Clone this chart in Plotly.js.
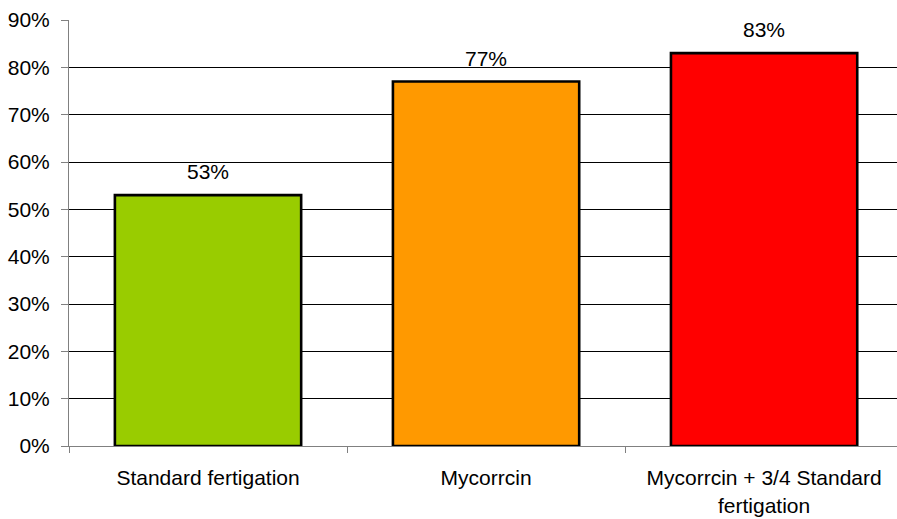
<!DOCTYPE html>
<html>
<head>
<meta charset="utf-8">
<script src="https://cdn.plot.ly/plotly-3.0.1.min.js"></script>
<style>html,body{margin:0;padding:0;background:#fff;}#chart{width:897px;height:519px;}</style>
</head>
<body>
<div id="chart"></div>
<script>
const categories = ["Standard fertigation", "Mycorrcin", "Mycorrcin + 3/4 Standard fertigation"];
const tickLabels = ["Standard fertigation", "Mycorrcin", "Mycorrcin + 3/4 Standard<br>fertigation"];
const values = [53, 77, 83];
const valueLabels = ["53%", "77%", "83%"];
const barColors = ["#99CC00", "#FF9900", "#FF0000"];
const yTickVals = [0, 10, 20, 30, 40, 50, 60, 70, 80, 90];
const yTickText = ["0%", "10%", "20%", "30%", "40%", "50%", "60%", "70%", "80%", "90%"];

const font = {family: "Liberation Sans, Arial, sans-serif", size: 21, color: "#000"};

const trace = {
  type: "bar",
  x: categories,
  y: values,
  width: 0.67,
  marker: {color: barColors, line: {color: "#000", width: 2.6}},
  hoverinfo: "none"
};

const annotations = categories.map((c, i) => ({
  x: c, y: values[i], xref: "x", yref: "y",
  text: valueLabels[i], showarrow: false,
  yanchor: "bottom", yshift: 10, font: font
}));

const layout = {
  width: 897, height: 519,
  margin: {l: 69, r: 0, t: 20, b: 73},
  paper_bgcolor: "#fff", plot_bgcolor: "#fff",
  font: font,
  showlegend: false,
  xaxis: {
    type: "category",
    range: [-0.5, 2.478],
    tickvals: categories,
    ticktext: tickLabels,
    tickson: "boundaries",
    ticks: "outside", ticklen: 6, tickcolor: "#808080", tickwidth: 1,
    ticklabelstandoff: 13,
    showline: true, linecolor: "#808080", linewidth: 1,
    showgrid: false, zeroline: false,
    tickfont: font,
    fixedrange: true
  },
  yaxis: {
    range: [0, 90],
    tickvals: yTickVals,
    ticktext: yTickText,
    ticks: "outside", ticklen: 7, tickcolor: "#808080", tickwidth: 1,
    ticklabelstandoff: 7,
    showline: true, linecolor: "#808080", linewidth: 1,
    showgrid: true, gridcolor: "#000", gridwidth: 1,
    zeroline: false,
    tickfont: font,
    fixedrange: true
  },
  annotations: annotations
};

Plotly.newPlot("chart", [trace], layout, {staticPlot: true, displayModeBar: false});
</script>
</body>
</html>
